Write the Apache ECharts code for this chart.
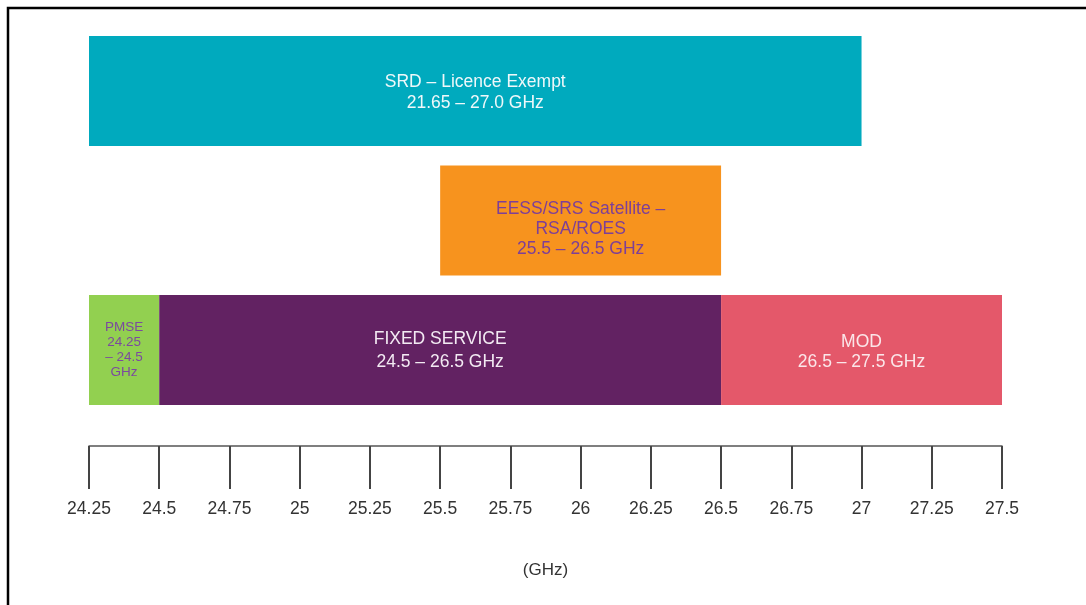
<!DOCTYPE html>
<html>
<head>
<meta charset="utf-8">
<title>24–27.5 GHz band allocations</title>
<script src="https://cdn.jsdelivr.net/npm/echarts@6/dist/echarts.min.js"></script>
<style>
  html, body { margin: 0; padding: 0; background: #ffffff; }
  #chart { width: 1086px; height: 605px; }
</style>
</head>
<body>
<div id="chart"></div>
<script>
// Frequency axis (GHz)
const axisMin = 24.25;
const axisMax = 27.5;
const axisStep = 0.25;

// Band allocations: name, lower / upper edge in GHz, and the row it sits in (0 = bottom)
const bandNames = ['SRD – Licence Exempt', 'EESS/SRS Satellite –\nRSA/ROES', 'PMSE', 'FIXED SERVICE', 'MOD'];
const bandStart = [21.65, 25.5, 24.25, 24.5, 26.5];
const bandEnd = [27.0, 26.5, 24.5, 26.5, 27.5];
const bandRow = [2, 1, 0, 0, 0];

// Presentation of each band
const bandColor = ['#00aabe', '#f7931e', '#92d050', '#622262', '#e4586a'];
const bandTextColor = ['#eef8fa', '#7d3f98', '#7b4a9e', '#f3eaf3', '#fbe6e9'];
const bandFontSize = [17.5, 17.5, 13.5, 17.5, 17.5];
const bandLineHeight = [21, 20, 15, 23, 20];
const bandTextOffset = [2, 9, 0, 1, 2];

const fmt = v => Number.isInteger(v) ? v.toFixed(1) : String(v);

function bandLabel(i) {
  const s = fmt(bandStart[i]), e = fmt(bandEnd[i]);
  if (bandEnd[i] - bandStart[i] < 0.3) {
    return bandNames[i] + '\n' + s + '\n– ' + e + '\nGHz';
  }
  return bandNames[i] + '\n' + s + ' – ' + e + ' GHz';
}

const rowFill = 0.85; // share of a row taken by a bar
const font = 'Liberation Sans, Arial, sans-serif';

const chart = echarts.init(document.getElementById('chart'), null, { renderer: 'canvas' });

chart.setOption({
  animation: false,
  backgroundColor: '#ffffff',
  grid: { left: 89, right: 84, top: 36, bottom: 159, containLabel: false },
  xAxis: {
    type: 'value',
    min: axisMin,
    max: axisMax,
    interval: axisStep,
    name: '(GHz)',
    nameLocation: 'middle',
    nameGap: 116,
    nameTextStyle: { color: '#333333', fontSize: 17, fontFamily: font },
    axisLine: { show: true, onZero: false, lineStyle: { color: '#555555', width: 1.5 } },
    axisTick: { show: true, inside: false, length: 43, lineStyle: { color: '#444444', width: 2 } },
    axisLabel: {
      margin: 54,
      color: '#333333',
      fontSize: 17.5,
      fontFamily: font,
      formatter: v => String(+v.toFixed(2))
    },
    splitLine: { show: false }
  },
  yAxis: {
    type: 'value',
    min: -0.317,
    max: 2 + rowFill,
    show: false
  },
  graphic: [{
    type: 'polyline',
    shape: { points: [[8, 605], [8, 8], [1086, 8]] },
    style: { stroke: '#000000', lineWidth: 2.5, fill: null },
    silent: true
  }],
  series: [{
    type: 'custom',
    clip: true,
    data: bandNames.map((n, i) => [bandStart[i], bandEnd[i], bandRow[i], i]),
    encode: { x: [0, 1], y: 2 },
    renderItem: function (params, api) {
      const i = api.value(3);
      const row = api.value(2);
      const s = Math.max(api.value(0), axisMin);
      const e = Math.min(api.value(1), axisMax);
      const p0 = api.coord([s, row + rowFill]);
      const p1 = api.coord([e, row]);
      return {
        type: 'rect',
        shape: { x: p0[0], y: p0[1], width: p1[0] - p0[0], height: p1[1] - p0[1] },
        style: { fill: bandColor[i] },
        textContent: {
          style: {
            text: bandLabel(i),
            fill: bandTextColor[i],
            fontSize: bandFontSize[i],
            lineHeight: bandLineHeight[i],
            fontFamily: font,
            align: 'center',
            verticalAlign: 'middle'
          }
        },
        textConfig: { position: 'inside', offset: [0, bandTextOffset[i]] }
      };
    }
  }]
});
</script>
</body>
</html>
